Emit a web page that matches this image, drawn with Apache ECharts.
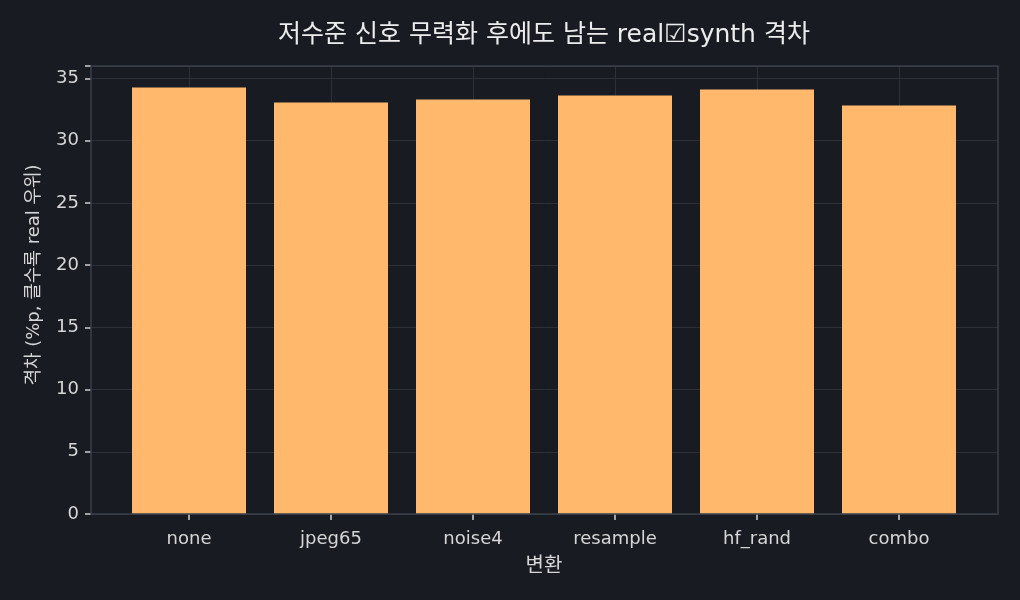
<!DOCTYPE html>
<html><head><meta charset="utf-8">
<script src="https://cdn.jsdelivr.net/npm/echarts@6/dist/echarts.min.js"></script>
<style>html,body{margin:0;padding:0;background:#181b22}#c{width:1020px;height:600px}</style>
</head><body><div id="c"></div>
<script>
const categories = ['none', 'jpeg65', 'noise4', 'resample', 'hf_rand', 'combo'];
const gapValues = [34.27, 33.06, 33.31, 33.63, 34.11, 32.82];
const yTicks = [0, 5, 10, 15, 20, 25, 30, 35];
const titleText = '저수준 신호 무력화 후에도 남는 real☑synth 격차';
const xName = '변환';
const yName = '격차 (%p, 클수록 real 우위)';

const FONT = "'DejaVu Sans', 'Noto Sans CJK KR', sans-serif";
const TXT = '#d6d6d6';
const chart = echarts.init(document.getElementById('c'));
chart.setOption({
  backgroundColor: '#181b22',
  animation: false,
  textStyle: { fontFamily: FONT },
  title: {
    text: titleText, left: 539, top: 18, textAlign: 'center',
    textStyle: { color: '#ececec', fontSize: 25, fontWeight: 'normal', fontFamily: FONT }
  },
  grid: [
    { left: 189, right: 121, top: 66, bottom: 86, show: false },
    { left: 91, right: 22, top: 66, bottom: 86, show: true, borderColor: '#3a3f4b', borderWidth: 1.5, backgroundColor: 'transparent', z: 5 }
  ],
  xAxis: [
    {
      type: 'category', gridIndex: 0, data: categories, boundaryGap: false,
      axisLine: { show: false },
      axisTick: { show: true, length: 6, lineStyle: { color: '#d0d0d0', width: 1.5 } },
      axisLabel: { color: TXT, fontSize: 18, margin: 16, fontFamily: FONT },
      splitLine: { show: true, lineStyle: { color: '#2c3039', width: 1 } },
      name: xName, nameLocation: 'middle', nameGap: 43,
      nameTextStyle: { color: TXT, fontSize: 20, fontFamily: FONT }
    },
    { type: 'value', gridIndex: 1, show: false, min: 0, max: 1 }
  ],
  yAxis: [
    {
      type: 'value', gridIndex: 1, min: 0, max: 36.0, interval: 5,
      axisLine: { show: false },
      axisTick: { show: true, length: 6, lineStyle: { color: '#d0d0d0', width: 1.5 } },
      axisLabel: { color: TXT, fontSize: 18, margin: 12, fontFamily: FONT,
        formatter: v => (yTicks.indexOf(v) >= 0 ? String(v) : '') },
      splitLine: { show: true, lineStyle: { color: '#2c3039', width: 1 } },
      name: yName, nameLocation: 'middle', nameGap: 48, nameRotate: 90,
      nameTextStyle: { color: TXT, fontSize: 18, fontFamily: FONT, padding: [0, 0, 0, 30] }
    },
    { type: 'value', gridIndex: 0, min: 0, max: 36.0, show: false, splitLine: { show: false } }
  ],
  series: [{
    type: 'bar', xAxisIndex: 0, yAxisIndex: 1, data: gapValues,
    barWidth: 114, clip: false, z: 3,
    itemStyle: { color: '#ffb86c' }
  }]
});
</script></body></html>
